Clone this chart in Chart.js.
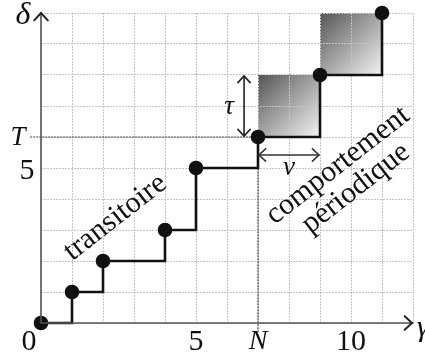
<!DOCTYPE html>
<html>
<head>
<meta charset="utf-8">
<script src="https://cdn.jsdelivr.net/npm/chart.js@4.4.1/dist/chart.umd.min.js"></script>
<style>
  body { margin: 0; background: #fff; }
  canvas { display: block; }
</style>
</head>
<body>
<canvas id="suite" width="425" height="360"></canvas>
<script>
// step points of the sequence (index -> delta)
const stepX = [0, 1, 2, 4, 5, 7, 9, 11];
const stepY = [0, 1, 2, 3, 5, 6, 8, 10];

// periodic part : N, T, nu, tau
const startN = 7;
const startT = 6;
const nu = 2;
const tau = 2;

// shaded squares of the periodic part [x0, y0, x1, y1]
const periodSquares = [[7, 6, 9, 8], [9, 8, 11, 10]];

// tick labels
const xTickValues = [0, 5, 7, 10];
const xTickTexts = ['0', '5', 'N', '10'];
const yTickValues = [5, 6];
const yTickTexts = ['5', 'T'];

const serif = "'Liberation Serif', 'DejaVu Serif', serif";
const axisColor = '#555';

const stepData = stepX.map((x, i) => ({ x: x, y: stepY[i] }));

function chevron(ctx, x, y, angle, size) {
    ctx.beginPath();
    ctx.moveTo(x + size * Math.cos(angle + Math.PI - 0.75), y + size * Math.sin(angle + Math.PI - 0.75));
    ctx.lineTo(x, y);
    ctx.lineTo(x + size * Math.cos(angle + Math.PI + 0.75), y + size * Math.sin(angle + Math.PI + 0.75));
    ctx.stroke();
}

function doubleArrow(ctx, x1, y1, x2, y2, size) {
    ctx.beginPath();
    ctx.moveTo(x1, y1);
    ctx.lineTo(x2, y2);
    ctx.stroke();
    const a = Math.atan2(y2 - y1, x2 - x1);
    chevron(ctx, x2, y2, a, size);
    chevron(ctx, x1, y1, a + Math.PI, size);
}

const squaresPlugin = {
    id: 'squares',
    beforeDraw(chart) {
        const { ctx, scales: { x, y } } = chart;
        periodSquares.forEach(sq => {
            const l = x.getPixelForValue(sq[0]), r = x.getPixelForValue(sq[2]);
            const b = y.getPixelForValue(sq[1]), t = y.getPixelForValue(sq[3]);
            const g = ctx.createLinearGradient(l, t, r, b);
            g.addColorStop(0, '#555');
            g.addColorStop(1, '#f4f4f4');
            ctx.save();
            ctx.fillStyle = g;
            ctx.fillRect(l, t, r - l, b - t);
            ctx.restore();
        });
    }
};

const annotPlugin = {
    id: 'annot',
    afterDraw(chart) {
        const { ctx, scales: { x, y } } = chart;
        const x0 = x.getPixelForValue(0), y0 = y.getPixelForValue(0);
        ctx.save();
        ctx.lineCap = 'round';

        // axes with arrows
        ctx.strokeStyle = axisColor;
        ctx.lineWidth = 1.6;
        ctx.beginPath();
        ctx.moveTo(x0, y0);
        ctx.lineTo(x.getPixelForValue(12), y0);
        ctx.moveTo(x0, y0);
        ctx.lineTo(x0, y.getPixelForValue(10));
        ctx.stroke();
        ctx.strokeStyle = '#222';
        ctx.lineWidth = 2;
        chevron(ctx, x.getPixelForValue(12) - 1, y0, 0, 10);
        chevron(ctx, x0, y.getPixelForValue(10), -Math.PI / 2, 10);

        // tau and nu arrows
        ctx.strokeStyle = '#222';
        ctx.lineWidth = 1.6;
        const xt = x.getPixelForValue(6.55);
        doubleArrow(ctx, xt, y.getPixelForValue(startT) - 1, xt, y.getPixelForValue(startT + tau) + 1, 9);
        const yn = y.getPixelForValue(5.42);
        ctx.strokeStyle = '#333';
        doubleArrow(ctx, x.getPixelForValue(startN) + 1, yn, x.getPixelForValue(startN + nu) - 1, yn, 9);

        // labels
        ctx.fillStyle = '#111';
        ctx.textAlign = 'center';
        ctx.textBaseline = 'middle';
        xTickValues.forEach((v, i) => {
            const italic = isNaN(Number(xTickTexts[i]));
            ctx.font = (italic ? 'italic 28px ' : '30px ') + serif;
            const dx = v === 0 ? -12 : 0;
            ctx.fillText(xTickTexts[i], x.getPixelForValue(v) + dx, y0 + 19);
        });
        yTickValues.forEach((v, i) => {
            const italic = isNaN(Number(yTickTexts[i]));
            ctx.font = (italic ? 'italic 27px ' : '30px ') + serif;
            ctx.fillText(yTickTexts[i], x0 - (italic ? 23 : 14), y.getPixelForValue(v) + (italic ? 1 : 3));
        });
        ctx.font = 'italic 32px ' + serif;
        ctx.fillText('δ', x0 - 18, y.getPixelForValue(10) + 3);
        ctx.textAlign = 'left';
        ctx.font = 'italic 30px ' + serif;
        ctx.fillText('γ', x.getPixelForValue(12) + 4, y0 + 5);
        ctx.textAlign = 'center';
        ctx.font = 'italic 27px ' + serif;
        ctx.fillText('τ', xt - 15, y.getPixelForValue(7) + 1);
        ctx.fillText('ν', x.getPixelForValue(startN + nu / 2), yn + 13);

        // rotated captions
        ctx.font = '30px ' + serif;
        const rot = -38 * Math.PI / 180;
        ctx.save();
        ctx.translate(x.getPixelForValue(2.4), y.getPixelForValue(3.4));
        ctx.rotate(rot);
        ctx.fillText('transitoire', 0, 0);
        ctx.restore();
        ctx.save();
        ctx.translate(x.getPixelForValue(9.58), y.getPixelForValue(5.08));
        ctx.rotate(rot);
        ctx.fillText('comportement', 0, 0);
        ctx.fillText('périodique', 0, 29);
        ctx.restore();

        ctx.restore();
    }
};

new Chart(document.getElementById('suite'), {
    type: 'line',
    data: {
        datasets: [
            {
                label: 'suite',
                data: stepData,
                stepped: true,
                borderColor: '#111',
                borderWidth: 2.6,
                pointRadius: 6,
                pointBackgroundColor: '#111',
                pointBorderColor: '#111',
                clip: false
            },
            {
                label: 'T',
                data: [{ x: -0.35, y: startT }, { x: startN, y: startT }],
                borderColor: '#444',
                borderWidth: 1.2,
                borderDash: [2, 1],
                pointRadius: 0,
                clip: false
            },
            {
                label: 'N',
                data: [{ x: startN, y: -0.3 }, { x: startN, y: startT }],
                borderColor: '#444',
                borderWidth: 1.2,
                borderDash: [2, 1],
                pointRadius: 0,
                clip: false
            }
        ]
    },
    options: {
        responsive: false,
        animation: false,
        devicePixelRatio: 1,
        layout: { padding: { left: 41, right: 12, top: 13, bottom: 37 } },
        scales: {
            x: {
                type: 'linear',
                min: 0,
                max: 12,
                ticks: { display: false, stepSize: 1 },
                grid: { color: '#c4c4c4', lineWidth: 1, drawTicks: false },
                border: { display: false, dash: [2, 1] }
            },
            y: {
                type: 'linear',
                min: 0,
                max: 10,
                ticks: { display: false, stepSize: 1 },
                grid: { color: '#c4c4c4', lineWidth: 1, drawTicks: false },
                border: { display: false, dash: [2, 1] }
            }
        },
        plugins: {
            legend: { display: false },
            tooltip: { enabled: false }
        }
    },
    plugins: [squaresPlugin, annotPlugin]
});
</script>
</body>
</html>
